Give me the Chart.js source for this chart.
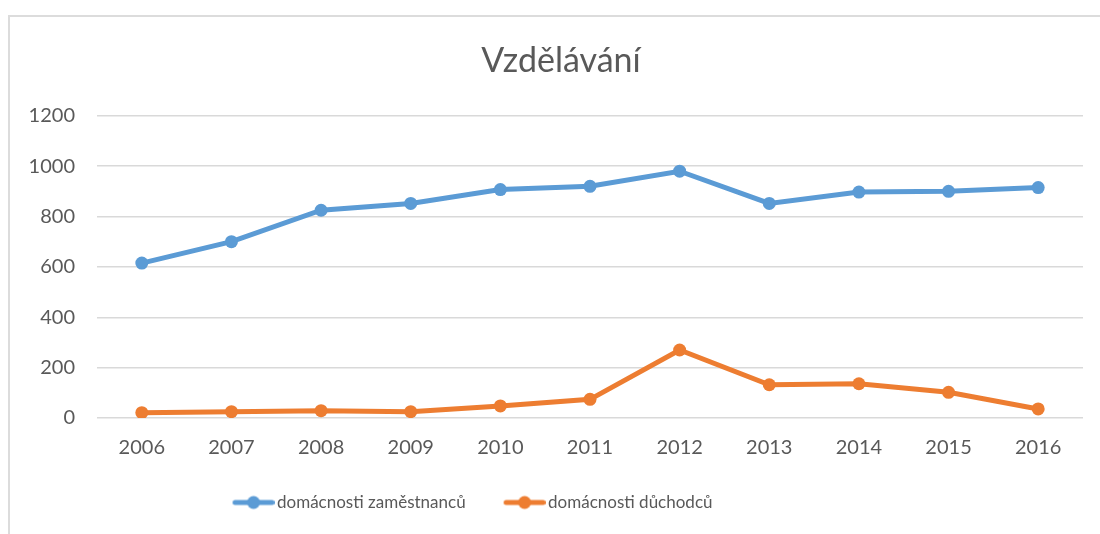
<!DOCTYPE html>
<html><head><meta charset="utf-8">
<script src="https://cdn.jsdelivr.net/npm/chart.js@4"></script>
<style>
html,body{margin:0;padding:0;background:#fff;}
#wrap{position:relative;width:1100px;height:534px;overflow:hidden;}
#frame{position:absolute;left:8px;top:15px;width:1200px;height:600px;border-left:2px solid #dcdcdc;border-top:2px solid #dcdcdc;pointer-events:none;}
</style></head><body>
<div id="wrap"><canvas id="c" width="1100" height="534"></canvas><div id="frame"></div></div>
<script>
const years = ['2006','2007','2008','2009','2010','2011','2012','2013','2014','2015','2016'];
const zamestnanci = [615, 700, 825, 852, 907, 920, 980, 852, 897, 900, 915];
const duchodci = [21, 25, 29, 25, 48, 74, 270, 132, 136, 102, 36];
const seriesNames = ['domácnosti zaměstnanců', 'domácnosti důchodců'];
const yMin = 0, yMax = 1200, yStep = 200;
const chartTitle = 'Vzdělávání';

const BLUE = '#5B9BD5', ORANGE = '#ED7D31', TEXT = '#595959', GRID = '#d9d9d9';
const FONT = 'Lato';
const LEGEND_SHIFT = 166;
const TITLE_SHIFT = 39;

function legendIcon(color) {
  const c = document.createElement('canvas');
  c.width = 76; c.height = 16;
  const x = c.getContext('2d');
  x.strokeStyle = color; x.lineWidth = 5; x.lineCap = 'round';
  x.beginPath(); x.moveTo(36.5, 8); x.lineTo(73.5, 8); x.stroke();
  x.fillStyle = color; x.beginPath(); x.arc(55, 8, 6.5, 0, Math.PI * 2); x.fill();
  return c;
}

const boxMover = {
  id: 'boxMover',
  afterLayout(chart) {
    if (chart.legend) { chart.legend.right = chart.legend.right - LEGEND_SHIFT; }
    if (chart.titleBlock) { chart.titleBlock.left = chart.titleBlock.left + TITLE_SHIFT; }
  }
};

new Chart(document.getElementById('c'), {
  type: 'line',
  plugins: [boxMover],
  data: {
    labels: years,
    datasets: [
      { label: seriesNames[0], data: zamestnanci, borderColor: BLUE, backgroundColor: BLUE,
        borderWidth: 5, pointRadius: 6.5, pointBackgroundColor: BLUE, pointBorderWidth: 0,
        pointStyle: 'circle', tension: 0 },
      { label: seriesNames[1], data: duchodci, borderColor: ORANGE, backgroundColor: ORANGE,
        borderWidth: 5, pointRadius: 6.5, pointBackgroundColor: ORANGE, pointBorderWidth: 0,
        pointStyle: 'circle', tension: 0 }
    ]
  },
  options: {
    responsive: false,
    animation: false,
    layout: { padding: { left: 0, right: 17, top: 0, bottom: 13 } },
    plugins: {
      title: { display: true, text: chartTitle, color: TEXT,
        font: { family: FONT, size: 34, weight: 'normal' }, padding: { top: 41, bottom: 34 } },
      legend: { position: 'bottom',
        labels: { color: TEXT, font: { family: FONT, size: 17 }, usePointStyle: true,
          pointStyleWidth: 64, padding: 10,
          generateLabels: (chart) => chart.data.datasets.map((d, i) => ({
            text: d.label, pointStyle: legendIcon(d.borderColor), fillStyle: d.borderColor,
            strokeStyle: d.borderColor, lineWidth: 0, datasetIndex: i, fontColor: TEXT
          }))
        } },
      tooltip: { enabled: false }
    },
    scales: {
      x: { offset: true, grid: { display: false }, border: { display: false },
        ticks: { color: TEXT, font: { family: FONT, size: 20 }, padding: 10 },
        afterFit: (s) => { s.height = 66; } },
      y: { min: yMin, max: yMax, border: { display: false },
        grid: { color: GRID, lineWidth: 1.5, drawTicks: false },
        ticks: { stepSize: yStep, color: TEXT, font: { family: FONT, size: 20 }, padding: 22,
          callback: (v) => String(v) },
        afterFit: (s) => { s.width = 97; } }
    }
  }
});
</script>
</body></html>
